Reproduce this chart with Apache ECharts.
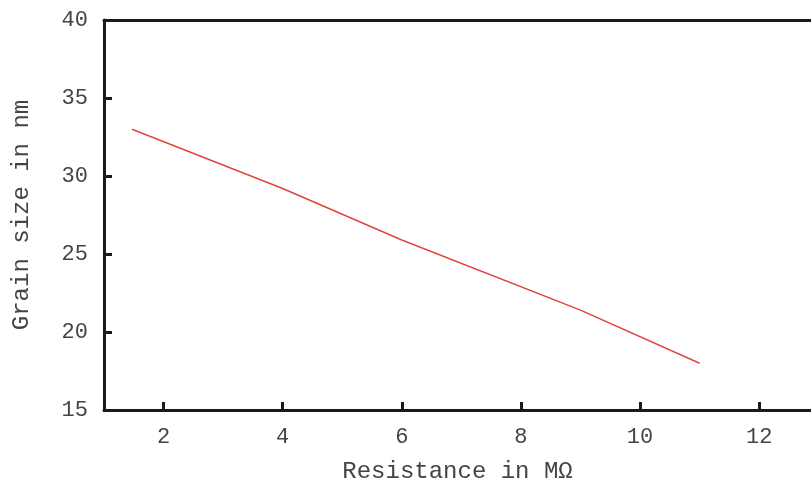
<!DOCTYPE html>
<html>
<head>
<meta charset="utf-8">
<script src="https://cdn.jsdelivr.net/npm/echarts@6/dist/echarts.min.js"></script>
<style>
  html, body { margin: 0; padding: 0; background: #fff; }
  #chart { width: 811px; height: 484px; }
</style>
</head>
<body>
<div id="chart"></div>
<script>
// resistance (MΩ) vs grain size (nm)
const resistance = [1.47, 4, 6, 9, 11];
const grainSize = [33.0, 29.2, 25.9, 21.4, 18.0];
const xTicks = [2, 4, 6, 8, 10, 12];

const font = '"Liberation Mono", "DejaVu Sans Mono", monospace';
const axisColor = '#1a1a1a';
const textColor = '#444';

const chart = echarts.init(document.getElementById('chart'));

chart.setOption({
  animation: false,
  grid: { left: 104, right: 0, top: 20, bottom: 74, outerBoundsMode: 'none', containLabel: false },
  xAxis: [
    {
      type: 'value',
      min: 1,
      max: 12.87,
      name: 'Resistance in MΩ',
      nameLocation: 'middle',
      nameGap: 50,
      nameTextStyle: { fontFamily: font, fontSize: 24, color: textColor },
      axisLine: { lineStyle: { color: axisColor, width: 3 } },
      axisTick: {
        inside: true,
        length: 8,
        customValues: xTicks,
        lineStyle: { color: axisColor, width: 3 }
      },
      axisLabel: {
        customValues: xTicks,
        margin: 16,
        fontFamily: font,
        fontSize: 22,
        color: textColor
      },
      splitLine: { show: false }
    },
    {
      type: 'value',
      position: 'top',
      min: 1,
      max: 12.87,
      axisLine: { show: true, lineStyle: { color: axisColor, width: 3 } },
      axisTick: { show: false },
      axisLabel: { show: false },
      splitLine: { show: false }
    }
  ],
  yAxis: {
    type: 'value',
    min: 15,
    max: 40,
    interval: 5,
    name: 'Grain size in nm',
    nameLocation: 'middle',
    nameGap: 70,
    nameTextStyle: { fontFamily: font, fontSize: 24, color: textColor },
    axisLine: { show: true, lineStyle: { color: axisColor, width: 3 } },
    axisTick: {
      show: true,
      inside: true,
      length: 8,
      lineStyle: { color: axisColor, width: 3 }
    },
    axisLabel: {
      margin: 16,
      fontFamily: font,
      fontSize: 22,
      color: textColor
    },
    splitLine: { show: false }
  },
  series: [
    {
      type: 'line',
      data: resistance.map((x, i) => [x, grainSize[i]]),
      showSymbol: false,
      lineStyle: { color: '#e0453c', width: 1.5 }
    }
  ]
});
</script>
</body>
</html>
